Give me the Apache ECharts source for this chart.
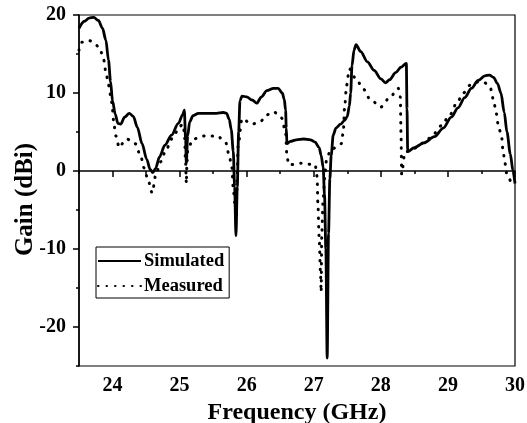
<!DOCTYPE html>
<html>
<head>
<meta charset="utf-8">
<script src="https://cdn.jsdelivr.net/npm/echarts@6/dist/echarts.min.js"></script>
<style>
html,body{margin:0;padding:0;background:#fff;}
#chart{width:527px;height:423px;}
</style>
</head>
<body>
<div id="chart"></div>
<script>
const simFreq = [23.50,23.58,23.65,23.72,23.79,23.85,23.90,23.94,23.97,24.00,24.04,24.08,24.12,24.18,24.25,24.31,24.37,24.44,24.51,24.56,24.60,24.64,24.70,24.78,24.88,24.98,25.05,25.07,25.09,25.10,25.12,25.15,25.20,25.28,25.40,25.55,25.65,25.70,25.74,25.77,25.80,25.82,25.84,25.86,25.88,25.90,25.93,26.00,26.08,26.15,26.22,26.30,26.40,26.47,26.53,26.56,26.58,26.59,26.60,26.65,26.74,26.85,26.95,27.02,27.08,27.11,27.14,27.16,27.18,27.20,27.22,27.24,27.26,27.29,27.33,27.40,27.46,27.50,27.53,27.55,27.57,27.60,27.63,27.70,27.80,27.90,28.00,28.07,28.13,28.22,28.30,28.38,28.39,28.40,28.50,28.64,28.80,28.93,29.05,29.15,29.25,29.35,29.45,29.55,29.62,29.68,29.74,29.79,29.84,29.88,29.93,29.97,30.00];
const simGain = [18.3,19.2,19.6,19.7,19.3,18.3,16.8,14.2,11.5,9.0,7.3,6.1,6.0,6.9,7.4,7.0,5.6,3.5,1.5,0.2,-0.2,0.3,1.8,3.3,4.6,6.1,7.3,7.8,4.0,1.0,4.5,6.3,7.1,7.4,7.4,7.4,7.5,7.4,6.6,5.3,2.5,-2.0,-8.3,-2.0,5.0,9.0,9.6,9.5,9.1,8.7,9.5,10.3,10.6,10.6,10.0,9.2,7.8,5.5,3.5,3.8,4.0,4.1,4.0,3.7,3.0,2.0,0.5,-3.0,-10.0,-24.0,-8.0,-1.0,2.0,4.6,5.5,6.0,6.5,7.0,8.3,10.0,13.5,15.5,16.2,15.3,14.0,12.9,11.8,11.3,11.7,12.6,13.3,13.8,8.0,2.5,3.0,3.6,4.4,5.5,6.9,8.1,9.4,10.6,11.6,12.2,12.3,12.0,11.2,10.0,7.5,5.0,2.2,0.0,-1.6];
const measFreq = [23.50,23.54,23.60,23.66,23.73,23.81,23.87,23.90,23.94,23.98,24.00,24.02,24.05,24.10,24.16,24.21,24.28,24.34,24.42,24.47,24.53,24.59,24.65,24.72,24.80,24.90,25.00,25.05,25.07,25.09,25.10,25.11,25.12,25.20,25.38,25.56,25.69,25.74,25.78,25.80,25.83,25.84,25.86,25.87,25.93,26.08,26.21,26.30,26.40,26.52,26.58,26.60,26.63,26.81,27.02,27.05,27.06,27.08,27.10,27.11,27.12,27.14,27.17,27.19,27.25,27.41,27.44,27.46,27.49,27.53,27.63,27.74,27.84,28.00,28.13,28.26,28.29,28.30,28.31,28.36,28.49,28.66,28.78,28.90,29.03,29.13,29.23,29.33,29.45,29.55,29.63,29.68,29.72,29.75,29.80,29.82,29.85,29.88,29.96,30.00];
const measGain = [15.5,16.5,16.7,16.7,16.4,15.7,14.2,12.7,11.0,9.3,7.8,6.0,4.5,3.0,3.6,4.1,3.9,3.5,1.9,0.4,-1.2,-2.8,-0.3,1.2,2.8,4.3,5.7,6.0,5.0,1.0,-1.6,1.0,2.7,4.1,4.5,4.5,3.6,1.9,0.4,-2.4,-4.6,-5.9,-1.0,3.1,6.7,6.0,6.4,7.2,7.6,6.8,5.0,1.8,0.8,1.0,0.8,-0.7,-4.0,-8.5,-13.0,-15.5,-8.0,-3.5,-0.1,1.4,2.7,3.5,5.0,8.2,11.0,13.1,11.8,10.5,9.2,8.2,9.4,10.6,9.5,5.0,-0.4,2.4,2.9,3.7,4.7,5.8,7.2,8.7,10.0,11.0,11.4,11.3,10.7,9.1,7.4,5.9,4.4,2.7,1.0,-0.5,-1.6,-1.7];
const xMajorTicks = [24, 25, 26, 27, 28, 29, 30];
const yMajorTicks = [-20, -10, 0, 10, 20];
const xRange = {min: 23.5, max: 30, step: 0.5};
const yRange = {min: -25, max: 20, step: 5};

const FONT = '"Liberation Serif", "Times New Roman", serif';
const zip = (a, b) => a.map((v, i) => [v, b[i]]);
const isMajor = (v, list) => list.some(t => Math.abs(t - v) < 1e-9);

const chart = echarts.init(document.getElementById('chart'), null, {renderer: 'canvas'});
chart.setOption({
  animation: false,
  backgroundColor: '#fff',
  grid: {left: 79, right: 12, top: 15, bottom: 57, containLabel: false, outerBoundsMode: 'none',
         show: true, borderColor: '#000', borderWidth: 1.2, backgroundColor: 'transparent'},
  legend: {
    left: 96, top: 247, orient: 'vertical',
    itemWidth: 43, itemHeight: 14, itemGap: 5,
    padding: [4, 5, 2, 1],
    borderColor: '#000', borderWidth: 1,
    itemStyle: {opacity: 0, color: 'rgba(0,0,0,0)', borderColor: 'rgba(0,0,0,0)', borderWidth: 0},
    textStyle: {fontFamily: FONT, fontWeight: 'bold', fontSize: 18.5, color: '#000', lineHeight: 20, padding: [0, 0, 0, -2]},
    data: ['Simulated', 'Measured']
  },
  xAxis: [{
    type: 'value', min: xRange.min, max: xRange.max, interval: xRange.step,
    name: 'Frequency (GHz)', nameLocation: 'middle', nameGap: 35, nameMoveOverlap: false,
    nameTextStyle: {fontFamily: FONT, fontWeight: 'bold', fontSize: 24, color: '#000'},
    axisLine: {lineStyle: {color: '#000', width: 1.5}},
    axisTick: {show: true, length: 3, lineStyle: {color: '#000', width: 1.5}},
    splitLine: {show: false},
    axisLabel: {
      margin: 10, fontFamily: FONT, fontWeight: 'bold', fontSize: 20, color: '#000',
      showMaxLabel: true, showMinLabel: true,
      formatter: v => (isMajor(v, xMajorTicks) ? String(Math.round(v)) : '')
    }
  }, {
    type: 'value', min: xRange.min, max: xRange.max, position: 'bottom',
    axisLine: {show: false},
    axisTick: {show: true, length: 6, customValues: xMajorTicks, lineStyle: {color: '#000', width: 1.5}},
    axisLabel: {show: false},
    splitLine: {show: false}
  }],
  yAxis: [{
    type: 'value', min: yRange.min, max: yRange.max, interval: yRange.step,
    name: 'Gain (dBi)', nameLocation: 'middle', nameGap: 41, nameRotate: 90, nameMoveOverlap: false,
    nameTextStyle: {fontFamily: FONT, fontWeight: 'bold', fontSize: 25, color: '#000', padding: [0, 18, 0, 0]},
    axisLine: {show: true, lineStyle: {color: '#000', width: 1.5}},
    axisTick: {show: true, length: 3, lineStyle: {color: '#000', width: 1.5}},
    splitLine: {show: false},
    axisLabel: {
      margin: 13, fontFamily: FONT, fontWeight: 'bold', fontSize: 20, color: '#000',
      showMaxLabel: true, showMinLabel: true,
      formatter: v => (isMajor(v, yMajorTicks) ? String(v) : '')
    }
  }, {
    type: 'value', min: yRange.min, max: yRange.max, position: 'left',
    axisLine: {show: false},
    axisTick: {show: true, length: 6, customValues: yMajorTicks, lineStyle: {color: '#000', width: 1.5}},
    axisLabel: {show: false},
    splitLine: {show: false}
  }],
  series: [
    {
      name: 'Simulated', type: 'line', data: zip(simFreq, simGain),
      symbol: 'none', smooth: 0.3, smoothMonotone: 'x',
      lineStyle: {color: '#000', width: 2.8, type: 'solid'},
      itemStyle: {color: '#000'}
    },
    {
      name: 'Measured', type: 'line', data: zip(measFreq, measGain),
      symbol: 'none', smooth: 0.3, smoothMonotone: 'x',
      lineStyle: {color: '#000', width: 3, type: [0.5, 8], cap: 'round'},
      itemStyle: {color: '#000'}
    }
  ]
});
</script>
</body>
</html>
